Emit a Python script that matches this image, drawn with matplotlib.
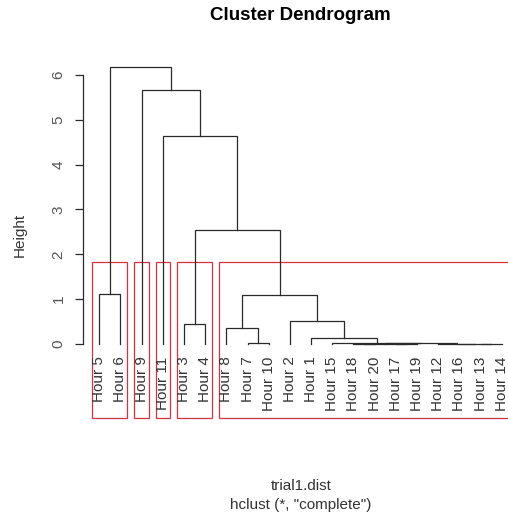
import matplotlib
matplotlib.use("Agg")
import matplotlib.pyplot as plt
from matplotlib.patches import Rectangle

# hclust merges, lowest first: (left, right, height)
# a side is a leaf name or the index of an earlier merge
merge_left = ["Hour 17", "Hour 13", "Hour 18", "Hour 16", 2, "Hour 12", 4, "Hour 15",
              "Hour 7", "Hour 1", "Hour 8", "Hour 3", "Hour 2", 10, "Hour 5", 11,
              "Hour 11", "Hour 9", 14]
merge_right = ["Hour 19", "Hour 14", "Hour 20", 1, 0, 3, 5, 6,
               "Hour 10", 7, 8, "Hour 4", 9, 12, "Hour 6", 13,
               15, 16, 17]
merge_height = [0.004, 0.003, 0.006, 0.008, 0.010, 0.012, 0.014, 0.018,
                0.03, 0.13, 0.36, 0.45, 0.51, 1.085, 1.12, 2.54,
                4.64, 5.67, 6.18]
n_clusters = 5

yticks = [0, 1, 2, 3, 4, 5, 6]
title = "Cluster Dendrogram"
xlab = "trial1.dist"
sub = 'hclust (*, "complete")'
ylab = "Height"

plt.rcParams['font.family'] = ['Liberation Sans', 'DejaVu Sans']
line_col = "#2a2a2a"
text_col = "#333333"
tick_col = "#555555"
rect_col = "#d8303c"

root = len(merge_height) - 1

# leaf order from walking the tree
order = []
def walk(node):
    if isinstance(node, str):
        order.append(node)
    else:
        walk(merge_left[node])
        walk(merge_right[node])
walk(root)
xpos = {name: i + 1 for i, name in enumerate(order)}

fig = plt.figure(figsize=(5.08, 5.16), dpi=100)
ax = fig.add_axes([0.1638, 0.1893, 0.8555, 0.7093])
ax.set_xlim(0.24, 20.76)
ax.set_ylim(-1.655, 6.5)

def place(node):
    # returns (x, height) and draws the links below it
    if isinstance(node, str):
        return xpos[node], 0.0
    xl, hl = place(merge_left[node])
    xr, hr = place(merge_right[node])
    h = merge_height[node]
    ax.plot([xl, xl, xr, xr], [hl, h, h, hr], color=line_col, lw=0.9,
            solid_joinstyle="miter", clip_on=False)
    return (xl + xr) / 2, h
place(root)

for name in order:
    ax.text(xpos[name], -0.28, name, rotation=90, ha="center", va="top",
            fontsize=11, color=text_col)

# rect.hclust style boxes
top_nodes = [root]
while len(top_nodes) < n_clusters:
    big = max([t for t in top_nodes if not isinstance(t, str)], key=lambda t: merge_height[t])
    top_nodes.remove(big)
    top_nodes += [merge_left[big], merge_right[big]]
hs = sorted(merge_height, reverse=True)
rect_top = (hs[n_clusters - 2] + hs[n_clusters - 1]) / 2
def leaves(node):
    if isinstance(node, str):
        return [node]
    return leaves(merge_left[node]) + leaves(merge_right[node])
for t in top_nodes:
    xs = [xpos[l] for l in leaves(t)]
    x0, x1 = min(xs) - 0.34, max(xs) + 0.33
    y0 = ax.get_ylim()[0]
    ax.add_patch(Rectangle((x0, y0), x1 - x0, rect_top - y0, fill=False,
                           edgecolor=rect_col, lw=0.9, clip_on=False))

for s in ["top", "right", "bottom"]:
    ax.spines[s].set_visible(False)
ax.spines["left"].set_bounds(0, 6)
ax.spines["left"].set_color(line_col)
ax.spines["left"].set_linewidth(0.9)
ax.set_xticks([])
ax.set_yticks(yticks)
ax.tick_params(axis="y", length=5.8, width=0.9, color=line_col, pad=7,
               labelsize=11, labelcolor=tick_col, labelrotation=90)
for lab in ax.get_yticklabels():
    lab.set_va("center")

fig.text(300 / 508, 1 - 15 / 516, title, ha="center", va="center",
         fontsize=13.5, fontweight="bold", color="black")
fig.text(301 / 508, 1 - 486 / 516, xlab, ha="center", va="center",
         fontsize=11, color=text_col)
fig.text(301 / 508, 1 - 505 / 516, sub, ha="center", va="center",
         fontsize=11, color=text_col)
fig.text(20 / 508, 1 - 235 / 516, ylab, rotation=90, ha="center", va="center",
         fontsize=11, color=text_col)

fig.savefig("out.png", dpi=100, facecolor="white")
